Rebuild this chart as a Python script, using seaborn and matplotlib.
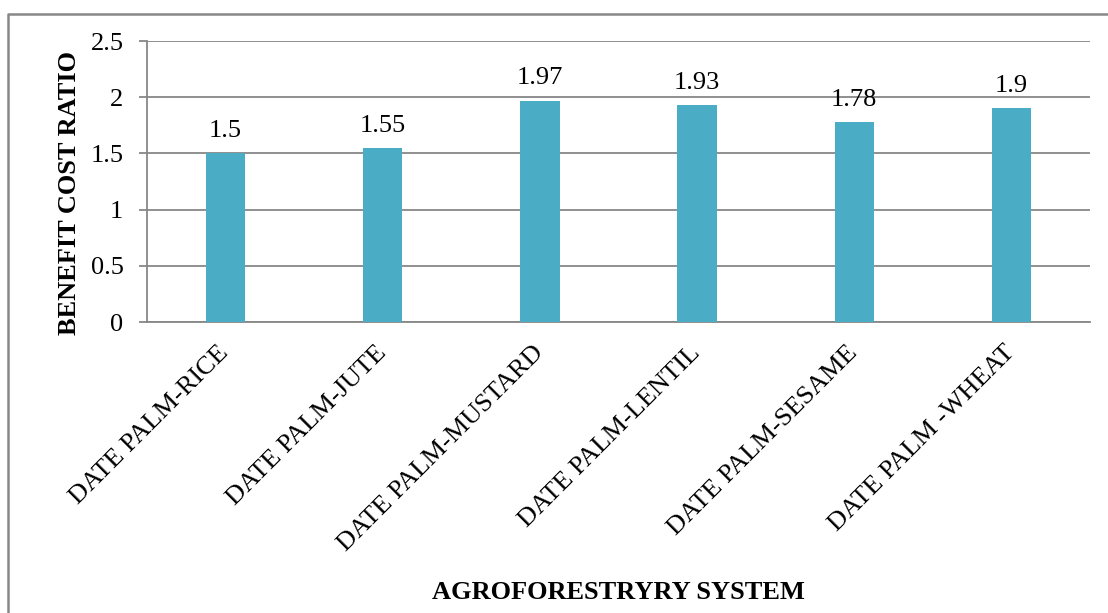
import matplotlib
matplotlib.use("Agg")
import matplotlib.pyplot as plt
from matplotlib.lines import Line2D
from matplotlib.transforms import ScaledTranslation
import seaborn as sns
import pandas as pd

systems = [
    "DATE PALM-RICE",
    "DATE PALM-JUTE",
    "DATE PALM-MUSTARD",
    "DATE PALM-LENTIL",
    "DATE PALM-SESAME",
    "DATE PALM -WHEAT",
]
bcr = [1.5, 1.55, 1.97, 1.93, 1.78, 1.9]
y_ticks = [0, 0.5, 1, 1.5, 2, 2.5]
y_tick_labels = ["0", "0.5", "1", "1.5", "2", "2.5"]

sns.set_theme(style="white")
plt.rcParams["font.family"] = ["Liberation Serif", "DejaVu Serif"]

grid_color = "#878787"
bar_color = "#4BACC6"
fs = 19

df = pd.DataFrame({"system": systems, "bcr": bcr})

fig = plt.figure(figsize=(11.08, 6.13), dpi=100)
ax = fig.add_axes([0.1327, 0.4747, 0.9838 - 0.1327, 0.9331 - 0.4747])

sns.barplot(data=df, x="system", y="bcr", color=bar_color, saturation=1,
            width=0.25, linewidth=0, ax=ax, zorder=3)

ax.set_ylim(0, 2.5)
ax.set_xlim(-0.5, len(systems) - 0.5)
ax.set_yticks(y_ticks)
ax.set_yticklabels(y_tick_labels, fontsize=fs)
ax.yaxis.grid(True, color=grid_color, linewidth=1.3, zorder=0)
ax.set_axisbelow(True)

for side in ["top", "right"]:
    ax.spines[side].set_visible(False)
for side in ["left", "bottom"]:
    ax.spines[side].set_color(grid_color)
    ax.spines[side].set_linewidth(1.3)

ax.tick_params(axis="y", which="both", left=True, length=6, width=1.3,
               color=grid_color, pad=11, labelcolor="black")
ax.tick_params(axis="x", bottom=False, pad=6)
ax.set_xticks(range(len(systems)))
ax.set_xticklabels(systems, rotation=45, ha="right", rotation_mode="anchor",
                   fontsize=fs, color="black")
# nudge the slanted category labels slightly left and down
shift = ScaledTranslation(-8 / 100, -3 / 100, fig.dpi_scale_trans)
for lbl in ax.get_xticklabels():
    lbl.set_transform(lbl.get_transform() + shift)

for container in ax.containers:
    ax.bar_label(container, labels=[f"{v:g}" for v in bcr], padding=8,
                 fontsize=fs, color="black")

ax.set_xlabel("AGROFORESTRYRY SYSTEM", fontsize=fs, fontweight="bold",
              color="black", labelpad=18)
ax.set_ylabel("BENEFIT COST RATIO", fontsize=fs, fontweight="bold",
              color="black")
ax.yaxis.set_label_coords(-0.070, 0.459)

# Outer frame, left and top edges
x0 = 8 / 1108
y0 = 1 - 14 / 613
fig.add_artist(Line2D([x0, x0, 1.0], [0.0, y0, y0], transform=fig.transFigure,
                      color="#888888", linewidth=1.8))

fig.savefig("out.png", dpi=100)
